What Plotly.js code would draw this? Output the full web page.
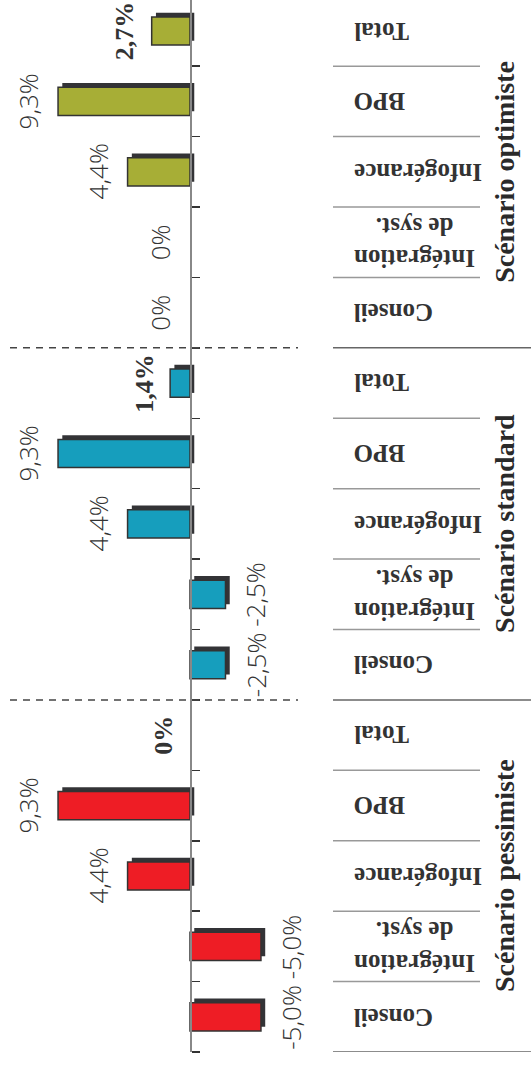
<!DOCTYPE html>
<html>
<head>
<meta charset="utf-8">
<script src="https://cdn.plot.ly/plotly-3.0.1.min.js"></script>
<style>
html,body{margin:0;padding:0;background:#fff;}
#chart{width:531px;height:1065px;}
</style>
</head>
<body>
<div id="chart"></div>
<script>
// ---- data ----
const categories = ['Conseil', 'Intégration<br>de syst.', 'Infogérance', 'BPO', 'Total'];
const scenarios = ['Scénario pessimiste', 'Scénario standard', 'Scénario optimiste'];
const pessimiste = [-5.0, -5.0, 4.4, 9.3, 0];
const standard = [-2.5, -2.5, 4.4, 9.3, 1.4];
const optimiste = [0, 0, 4.4, 9.3, 2.7];
const seriesValues = [pessimiste, standard, optimiste];
const colors = ['#EE1D25', '#169EBD', '#A7AE36'];

// ---- layout helpers ----
const W = 531, H = 1065;
const P = px => px / W;
const nCat = categories.length;
const shadowDx = 0.3, shadowDy = 0.06, barW = 0.4;

function fmt(v) {
  if (v === 0) return '0%';
  return v.toFixed(1).replace('.', ',') + '%';
}

const traces = [];
const annotations = [];
const shapes = [];

seriesValues.forEach((vals, s) => {
  const ys = vals.map((v, c) => s * nCat + c);
  const barVals = vals.map(v => (v === 0 ? null : v));
  // shadow
  traces.push({
    type: 'bar', orientation: 'h',
    x: barVals, y: ys.map(y => y + shadowDy),
    base: vals.map(() => -shadowDx),
    width: barW,
    marker: {color: '#333336', line: {width: 0}},
    hoverinfo: 'skip', showlegend: false
  });
  // main bars
  traces.push({
    type: 'bar', orientation: 'h',
    x: barVals, y: ys, width: barW,
    marker: {color: colors[s], line: {color: '#333333', width: 1.5}},
    name: scenarios[s], showlegend: false
  });
  // value labels
  vals.forEach((v, c) => {
    const isTotal = c === nCat - 1;
    annotations.push({
      xref: 'x', yref: 'y', x: v, y: ys[c],
      text: fmt(v), showarrow: false, textangle: -90,
      xanchor: v < 0 ? 'left' : 'right',
      xshift: v < 0 ? 10 : -10,
      font: isTotal
        ? {family: 'Liberation Serif, Times New Roman, serif', size: 26, weight: 'bold', color: '#333'}
        : {family: 'Open Sans, sans-serif', size: 26, weight: 300, color: '#333'}
    });
    // category labels
    annotations.push({
      xref: 'paper', yref: 'y', x: P(352), y: ys[c],
      text: categories[c], showarrow: false, textangle: 180,
      xanchor: 'left', align: 'center',
      font: {family: 'Liberation Serif, Times New Roman, serif', size: 25, weight: 'bold', color: '#333'}
    });
  });
  // scenario label
  annotations.push({
    xref: 'paper', yref: 'y', x: P(505), y: s * nCat + (nCat - 1) / 2,
    text: scenarios[s], showarrow: false, textangle: -90,
    xanchor: 'center',
    font: {family: 'Liberation Serif, Times New Roman, serif', size: 28, weight: 'bold', color: '#2a2a2a'}
  });
  // separators within scenario
  for (let c = 0; c < nCat - 1; c++) {
    shapes.push({type: 'line', xref: 'paper', yref: 'y',
      x0: P(333), x1: P(480), y0: s * nCat + c + 0.5, y1: s * nCat + c + 0.5,
      line: {color: '#999', width: 1.5}});
  }
  // scenario bottom boundary (right side solid)
  shapes.push({type: 'line', xref: 'paper', yref: 'y',
    x0: P(333), x1: 1, y0: s * nCat - 0.5, y1: s * nCat - 0.5,
    line: {color: '#666', width: 1.5}});
  // dashed divider between scenarios on the chart side
  if (s > 0) {
    shapes.push({type: 'line', xref: 'paper', yref: 'y',
      x0: P(10), x1: P(298), y0: s * nCat - 0.5, y1: s * nCat - 0.5,
      line: {color: '#444', width: 1.5, dash: '7px,6px'}});
  }
});

const total = nCat * scenarios.length;
const tickvals = [];
for (let i = 0; i <= total; i++) tickvals.push(i - 0.5);

const layout = {
  width: W, height: H,
  margin: {l: 0, r: 0, t: 0, b: 13},
  paper_bgcolor: '#fff', plot_bgcolor: '#fff',
  barmode: 'overlay',
  showlegend: false,
  xaxis: {range: [13.39, -24.03], visible: false, fixedrange: true},
  yaxis: {
    range: [-0.5, 14.44], anchor: 'free', position: P(190), side: 'right',
    showline: true, linecolor: '#888', linewidth: 1.5,
    ticks: 'outside', tickvals: tickvals, ticklen: 8, tickcolor: '#333', tickwidth: 1.5,
    showticklabels: false, showgrid: false, zeroline: false, fixedrange: true
  },
  annotations: annotations,
  shapes: shapes
};

Plotly.newPlot('chart', traces, layout, {staticPlot: true, displayModeBar: false});
</script>
</body>
</html>
